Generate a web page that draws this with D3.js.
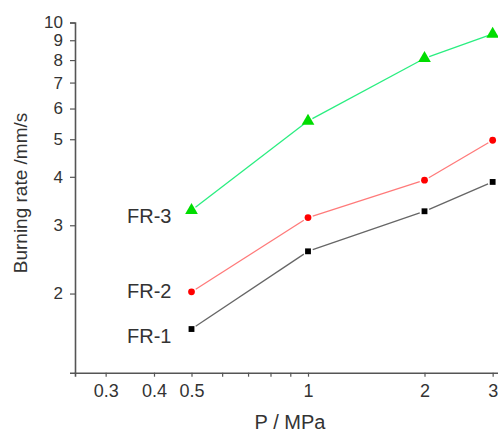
<!DOCTYPE html>
<html>
<head>
<meta charset="utf-8">
<script src="https://cdn.jsdelivr.net/npm/d3@7"></script>
<style>
  body { margin: 0; background: #fff; }
  svg { display: block; font-family: Arial, "Liberation Sans", sans-serif; }
</style>
</head>
<body>
<div id="chart"></div>
<script>
// pressure values (MPa)
var pressure = [0.5, 1, 2, 3];

// burning rate (mm/s) per formulation
var fr1 = [1.62, 2.57, 3.26, 3.88];
var fr2 = [2.02, 3.14, 3.92, 4.97];
var fr3 = [3.28, 5.57, 8.08, 9.34];

var xTicks = [0.3, 0.4, 0.5, 0.6, 0.7, 0.8, 0.9, 1, 2, 3];
var xLabels = [0.3, 0.4, 0.5, 1, 2, 3];
var yTicks = [2, 3, 4, 5, 6, 7, 8, 9, 10];

var width = 498, height = 435;

var svg = d3.select("#chart").append("svg")
    .attr("width", width)
    .attr("height", height);

var x = d3.scaleLog().domain([0.25, 3.2]).range([75, 503.5]);
var y = d3.scaleLog().domain([1.25, 10]).range([372.7, 22.5]);

var axisColour = "#555";
var textColour = "#333";

// x axis
var xAxis = svg.append("g")
    .attr("transform", "translate(0," + y(1.25) + ")")
    .call(d3.axisBottom(x)
      .tickValues(xTicks)
      .tickSizeOuter(0)
      .tickSize(4)
      .tickPadding(8)
      .tickFormat(function(d) { return xLabels.indexOf(d) >= 0 ? d : ""; }));

// y axis
var yAxis = svg.append("g")
    .attr("transform", "translate(" + x(0.25) + ",0)")
    .call(d3.axisLeft(y)
      .tickValues(yTicks)
      .tickSizeOuter(0)
      .tickSize(5)
      .tickPadding(7)
      .tickFormat(d3.format("d")));

[xAxis, yAxis].forEach(function(g) {
  g.select(".domain").attr("stroke", axisColour).attr("stroke-width", 1.6);
  g.selectAll(".tick line").attr("stroke", axisColour).attr("stroke-width", 1.2);
  g.selectAll(".tick text").attr("fill", textColour);
});
xAxis.selectAll(".tick text").style("font-size", "18px");
yAxis.selectAll(".tick text").style("font-size", "17px");

// axis titles
svg.append("text")
    .attr("x", 290)
    .attr("y", 429)
    .attr("text-anchor", "middle")
    .attr("fill", textColour)
    .style("font-size", "20px")
    .text("P / MPa");

svg.append("text")
    .attr("transform", "translate(27,193) rotate(-90)")
    .attr("text-anchor", "middle")
    .attr("fill", textColour)
    .style("font-size", "19px")
    .text("Burning rate /mm/s");

var series = [
  { name: "FR-1", values: fr1, line: "#666", marker: "#000", symbol: d3.symbolSquare, size: 34, labelDy: 7 },
  { name: "FR-2", values: fr2, line: "#ff7a7a", marker: "#ff0000", symbol: d3.symbolCircle, size: 36, labelDy: -1 },
  { name: "FR-3", values: fr3, line: "#2aee80", marker: "#00dd00", symbol: d3.symbolTriangle, size: 70, labelDy: 6 }
];

var gap = 5;

series.forEach(function(s) {
  var pts = pressure.map(function(p, i) { return [x(p), y(s.values[i])]; });
  var g = svg.append("g");

  // line segments with a small gap around each marker
  for (var i = 0; i < pts.length - 1; i++) {
    var a = pts[i], b = pts[i + 1];
    var dx = b[0] - a[0], dy = b[1] - a[1];
    var len = Math.sqrt(dx * dx + dy * dy);
    var ux = dx / len, uy = dy / len;
    g.append("line")
      .attr("x1", a[0] + ux * gap).attr("y1", a[1] + uy * gap)
      .attr("x2", b[0] - ux * gap).attr("y2", b[1] - uy * gap)
      .attr("stroke", s.line)
      .attr("stroke-width", 1.3);
  }

  g.selectAll("path.marker")
    .data(pts)
    .enter().append("path")
    .attr("class", "marker")
    .attr("transform", function(d) { return "translate(" + d[0] + "," + d[1] + ")"; })
    .attr("d", d3.symbol().type(s.symbol).size(s.size))
    .attr("fill", s.marker);

  svg.append("text")
    .attr("x", pts[0][0] - 20)
    .attr("y", pts[0][1] + s.labelDy)
    .attr("dy", "0.35em")
    .attr("text-anchor", "end")
    .attr("fill", textColour)
    .style("font-size", "20px")
    .text(s.name);
});
</script>
</body>
</html>
